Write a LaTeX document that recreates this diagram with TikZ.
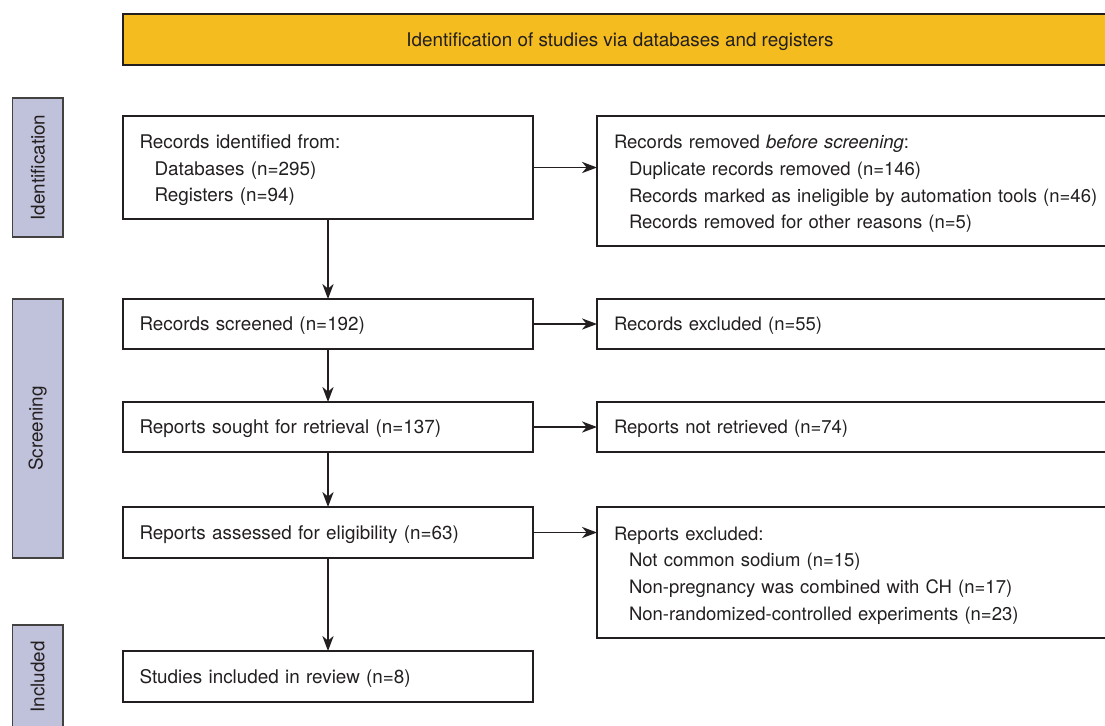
\documentclass[tikz,border=0pt]{standalone}
\usepackage{fontspec}
\setmainfont{TeX Gyre Heros}
\usepackage{tikz}
\usetikzlibrary{arrows.meta}
\usetikzlibrary{positioning}
\definecolor{prismagold}{HTML}{F4BC1E}
\definecolor{phaselav}{HTML}{C0C1DA}
\definecolor{inkline}{HTML}{231F20}
\newcommand{\indln}{\hspace*{7.5pt}}
\tikzset{
  flowbox/.style = {draw=inkline, line width=0.75pt, anchor=north west,
    inner xsep=8.25pt, inner ysep=0pt, outer sep=0pt, text=inkline,
    font=\fontsize{9.43pt}{13.3pt}\selectfont},
  leftbox/.style = {flowbox, align=left, minimum width=205pt,
    text width=188.5pt},% colonne de gauche
  rightbox/.style = {flowbox, align=left, minimum width=264pt,
    text width=247pt, font=\fontsize{9.25pt}{13.3pt}\selectfont},% colonne des exclusions
  oneline/.style = {text depth=0pt},% une seule ligne
  manylines/.style = {text height=9.8pt},% plusieurs lignes
  phasebar/.style = {draw=inkline!85, fill=phaselav, line width=0.75pt,
    inner sep=0pt, outer sep=0pt, rotate=90, minimum height=25.25pt, text=inkline,
    font=\fontsize{9.43pt}{12pt}\selectfont}
}

\begin{document}
\begin{tikzpicture}[x=0.5pt,y=-0.5pt,->,>={Stealth[length=7.5pt,width=5.6pt,inset=2.3pt]},
  line width=0.75pt, draw=inkline]
\clip (0,0) rectangle (1105,725);
% bandeau
\node [flowbox, oneline, fill=prismagold, minimum width=497pt, minimum height=25.5pt]
  (head) at (123,14) {Identification of studies via databases and registers};
% phases
\node [phasebar, minimum width=69.5pt] (idbar) at (37.75,167.5) {Identification};
\node [phasebar, minimum width=129.5pt] (scrbar) at (37.75,428.5) {Screening};
\node [phasebar, minimum width=52pt] (inclbar) at (37.75,677) {Included};
% colonne de gauche
\node [leftbox, manylines, minimum height=51.5pt] (ident) at (123,116)
  {Records identified from:\\ \indln Databases (n=295)\\ \indln Registers (n=94)};
\node [leftbox, oneline, minimum height=25pt, below=40pt of ident.south west, anchor=north west]
  (screen) {Records screened (n=192)};
\node [leftbox, oneline, minimum height=25pt, below=26.5pt of screen.south west, anchor=north west]
  (sought) {Reports sought for retrieval (n=137)};
\node [leftbox, oneline, minimum height=25.5pt, below=27.5pt of sought.south west, anchor=north west]
  (assess) {Reports assessed for eligibility (n=63)};
\node [leftbox, oneline, minimum height=25.5pt, below=46.5pt of assess.south west, anchor=north west]
  (incl) {Studies included in review (n=8)};
% colonne de droite
\node [rightbox, manylines, minimum height=65pt, right=32pt of ident.north east, anchor=north west]
  (removed) {Records removed \textit{before screening}:\\
  \indln Duplicate records removed (n=146)\\
  \indln Records marked as ineligible by automation tools (n=46)\\
  \indln Records removed for other reasons (n=5)};
\node [rightbox, oneline, minimum height=25pt, right=32pt of screen.north east, anchor=north west]
  (recexcl) {Records excluded (n=55)};
\node [rightbox, oneline, minimum height=25pt, right=32pt of sought.north east, anchor=north west]
  (notret) {Reports not retrieved (n=74)};
\node [rightbox, manylines, minimum height=65.5pt, right=32pt of assess.north east, anchor=north west]
  (repexcl) {Reports excluded:\\
  \indln Not common sodium (n=15)\\
  \indln Non-pregnancy was combined with CH (n=17)\\
  \indln Non-randomized-controlled experiments (n=23)};
% fleches
\draw (ident) -- (screen);
\draw (screen) -- (sought);
\draw (sought) -- (assess);
\draw (assess) -- (incl);
\draw (ident) -- (ident -| removed.west);
\draw (screen) -- (recexcl);
\draw (sought) -- (notret);
\draw (assess) -- (assess -| repexcl.west);
\end{tikzpicture}
\end{document}
